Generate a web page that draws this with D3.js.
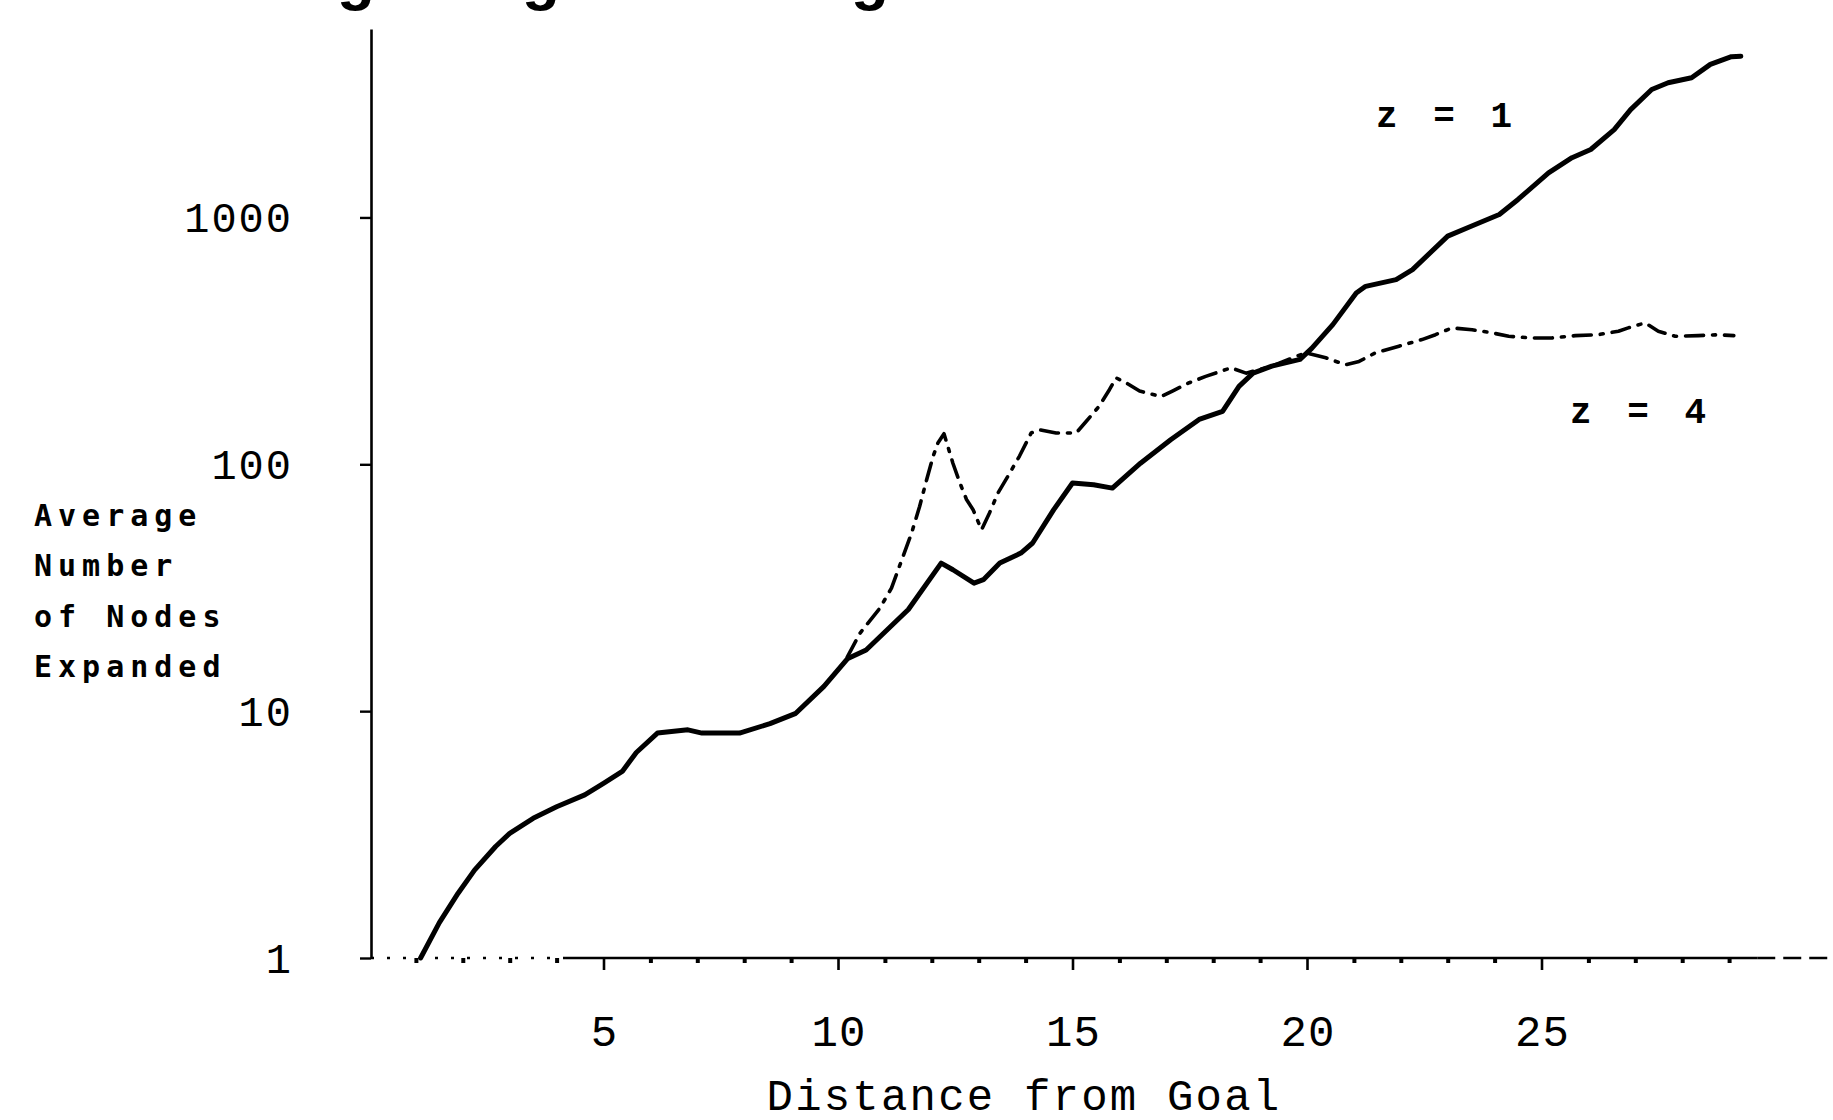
<!DOCTYPE html>
<html>
<head>
<meta charset="utf-8">
<script src="https://cdn.jsdelivr.net/npm/d3@7/dist/d3.min.js"></script>
<style>
  html, body { margin: 0; padding: 0; background: #fff; }
  svg { display: block; }
</style>
</head>
<body>
<div id="chart"></div>
<script>
// ---------- data ----------
const xMajorTicks = [5, 10, 15, 20, 25];
const xMinorTicks = [1,2,3,4,6,7,8,9,11,12,13,14,16,17,18,19,21,22,23,24,26,27,28,29];
const yTickValues = [1, 10, 100, 1000];
const yTickLabels = ["1", "10", "100", "1000"];
const xAxisTitle = "Distance from Goal";
const yAxisTitleLines = ["Average", "Number", "of Nodes", "Expanded"];
const seriesNames = ["z = 1", "z = 4"];

// z = 1 (solid)
const z1Distance = [1.1,1.5,1.9,2.25,2.7,3.0,3.5,4.0,4.6,5.0,5.4,5.7,6.15,6.8,7.1,7.9,8.55,9.1,9.7,10.2,
  10.6,11.5,12.2,12.45,12.9,13.1,13.45,13.9,14.15,14.6,15.0,15.45,15.85,16.45,17.1,17.7,18.2,18.55,18.85,19.25,
  19.85,20.1,20.55,21.05,21.25,21.9,22.25,23.0,23.5,24.1,24.5,25.15,25.65,26.05,26.55,26.9,27.35,27.7,28.2,28.6,
  29.05,29.25];
const z1Nodes = [1.0,1.39,1.83,2.27,2.83,3.2,3.68,4.1,4.58,5.1,5.7,6.8,8.15,8.4,8.15,8.15,8.9,9.8,12.6,16.3,
  17.7,25.8,39.8,37.4,33.0,34.1,39.8,43.7,48,65.5,84,82.6,80.1,101,126,152,164,207,234,250,
  266,295,368,494,526,560,615,840,921,1028,1183,1517,1746,1885,2270,2735,3300,3513,3680,4170,
  4480,4500];

// z = 4 (dash-dot)
const z4Distance = [10.2,10.47,10.89,11.14,11.36,11.57,11.74,11.89,12.03,12.13,12.26,12.45,12.6,12.74,12.88,
  13.06,13.23,13.41,13.62,13.87,14.12,14.3,14.65,15.08,15.29,15.57,15.79,15.93,16.14,16.43,16.89,17.13,17.49,
  17.84,18.38,18.7,19.25,19.97,20.4,20.82,21.11,21.46,21.96,22.45,22.74,23.09,23.52,23.94,24.3,24.79,25.22,
  25.72,26.21,26.64,26.85,27.21,27.49,27.85,28.34,28.77,29.1];
const z4Nodes = [16.6,20.7,26.1,31.5,41,52.7,67.5,86.6,108,122,133,101,84,72,65.5,
  54.3,63.5,76.5,89.3,108,134,138,134,134,149,172,201,224,214,198,188,198,214,
  227,246,234,250,283,270,253,261,283,301,320,335,357,351,341,330,325,325,
  332,335,346,357,374,346,330,332,335,332];

// ---------- drawing ----------
const W = 1833, H = 1120;
const svg = d3.select("#chart").append("svg")
  .attr("width", W).attr("height", H)
  .style("background", "#fff");

const x = d3.scaleLinear().domain([0, 30]).range([369, 1776]);
const y = d3.scaleLog().domain([1, 5800]).range([958, 29]);

const ink = "#000";
const mono = "'Liberation Mono', 'DejaVu Sans Mono', monospace";

// cut-off title fragments at the very top (only descenders visible)
const titleFrag = svg.append("g").attr("font-family", "'Liberation Sans', sans-serif")
  .attr("font-size", 62).attr("font-weight", "bold").attr("fill", ink);
[356, 541, 870].forEach(cx => {
  titleFrag.append("text").attr("x", cx).attr("y", -2)
    .attr("text-anchor", "middle").text("g");
});

// y axis
const yAxisG = svg.append("g").attr("transform", `translate(${x(0) + 2},0)`);
yAxisG.call(d3.axisLeft(y).tickValues(yTickValues).tickFormat("").tickSize(11).tickSizeOuter(0));
yAxisG.select(".domain").attr("stroke", ink).attr("stroke-width", 2.6);
yAxisG.selectAll(".tick line").attr("stroke", ink).attr("stroke-width", 2.4);

svg.append("g").selectAll("text").data(yTickValues).join("text")
  .attr("x", 293).attr("y", d => y(d))
  .attr("dy", "0.35em")
  .attr("text-anchor", "end")
  .attr("font-family", mono).attr("font-size", 42)
  .attr("letter-spacing", 2)
  .attr("fill", ink)
  .text((d, i) => yTickLabels[i]);

// x axis
const xAxisLine = svg.append("g");
xAxisLine.append("line")
  .attr("x1", x(0) + 2).attr("x2", x(4.2)).attr("y1", y(1)).attr("y2", y(1))
  .attr("stroke", ink).attr("stroke-width", 2.4).attr("stroke-dasharray", "3,13");
xAxisLine.append("line")
  .attr("x1", x(4.2)).attr("x2", x(29.6)).attr("y1", y(1)).attr("y2", y(1))
  .attr("stroke", ink).attr("stroke-width", 2.4);
xAxisLine.append("line")
  .attr("x1", x(29.6)).attr("x2", W).attr("y1", y(1)).attr("y2", y(1))
  .attr("stroke", ink).attr("stroke-width", 2.4).attr("stroke-dasharray", "18,8");

const xMajorG = svg.append("g").attr("transform", `translate(0,${y(1)})`);
xMajorG.call(d3.axisBottom(x).tickValues(xMajorTicks).tickFormat("").tickSize(12).tickSizeOuter(0));
xMajorG.select(".domain").remove();
xMajorG.selectAll(".tick line").attr("stroke", ink).attr("stroke-width", 2.6);

const xMinorG = svg.append("g").attr("transform", `translate(0,${y(1)})`);
xMinorG.call(d3.axisBottom(x).tickValues(xMinorTicks).tickFormat("").tickSize(5).tickSizeOuter(0));
xMinorG.select(".domain").remove();
xMinorG.selectAll(".tick line").attr("stroke", ink).attr("stroke-width", 4);

svg.append("g").selectAll("text").data(xMajorTicks).join("text")
  .attr("x", d => x(d) + 1).attr("y", 1046)
  .attr("text-anchor", "middle")
  .attr("font-family", mono).attr("font-size", 44)
  .attr("letter-spacing", 1)
  .attr("fill", ink)
  .text(d => String(d));

// axis titles
svg.append("text")
  .attr("x", 1024).attr("y", 1110)
  .attr("text-anchor", "middle")
  .attr("font-family", mono).attr("font-size", 44)
  .attr("letter-spacing", 2.2)
  .attr("fill", ink)
  .text(xAxisTitle);

svg.append("g").selectAll("text").data(yAxisTitleLines).join("text")
  .attr("x", 34).attr("y", (d, i) => 526 + i * 50.3)
  .attr("font-family", "'DejaVu Sans Mono', monospace")
  .attr("font-weight", "bold")
  .attr("font-size", 30)
  .attr("letter-spacing", 6)
  .attr("fill", ink)
  .text(d => d);

// series lines
const line = d3.line()
  .x(d => x(d[0])).y(d => y(d[1]))
  .curve(d3.curveLinear);

const z1Data = z1Distance.map((d, i) => [d, z1Nodes[i]]);
const z4Data = z4Distance.map((d, i) => [d, z4Nodes[i]]);

svg.append("path").datum(z4Data)
  .attr("d", line)
  .attr("fill", "none").attr("stroke", ink)
  .attr("stroke-width", 3.6)
  .attr("stroke-linejoin", "round").attr("stroke-linecap", "round")
  .attr("stroke-dasharray", "18,9,3,9");

svg.append("path").datum(z1Data)
  .attr("d", line)
  .attr("fill", "none").attr("stroke", ink)
  .attr("stroke-width", 5)
  .attr("stroke-linejoin", "round").attr("stroke-linecap", "round");

// series labels
svg.append("text")
  .attr("x", 1376).attr("y", 127)
  .attr("font-family", mono).attr("font-weight", "bold").attr("font-size", 36)
  .attr("letter-spacing", 7)
  .attr("fill", ink)
  .text(seriesNames[0]);

svg.append("text")
  .attr("x", 1570).attr("y", 423)
  .attr("font-family", mono).attr("font-weight", "bold").attr("font-size", 36)
  .attr("letter-spacing", 7)
  .attr("fill", ink)
  .text(seriesNames[1]);
</script>
</body>
</html>
